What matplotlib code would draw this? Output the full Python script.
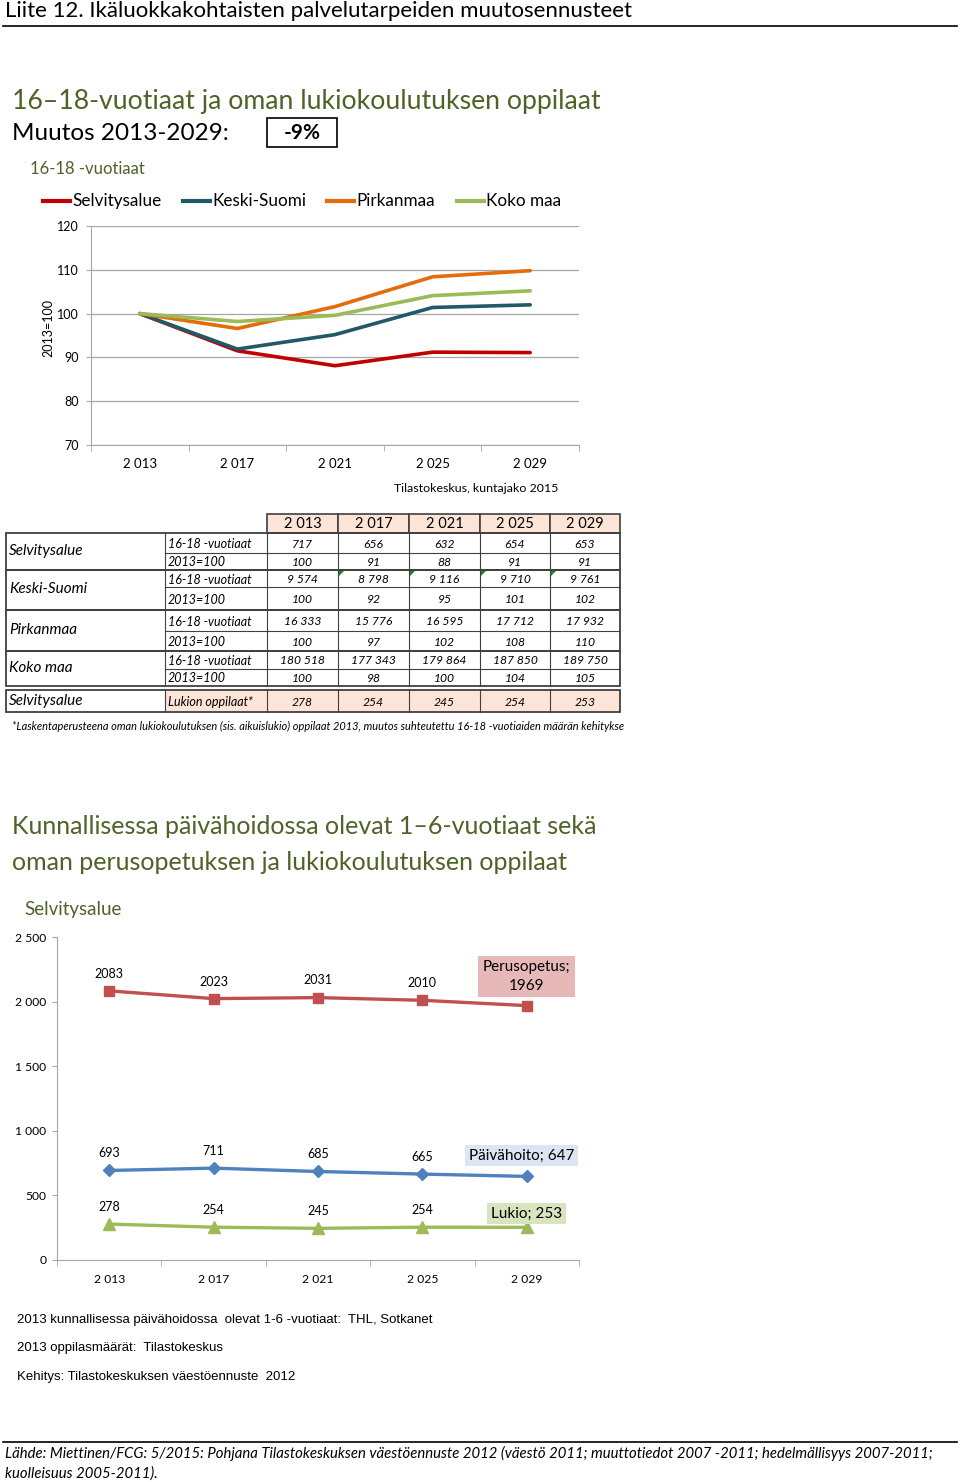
import numpy as np
import matplotlib.pyplot as plt
from matplotlib.patches import Rectangle, Polygon

plt.rcParams['font.family'] = ['Lato', 'DejaVu Sans']

W, H = 960, 1482

# --- data ---
years = ['2 013', '2 017', '2 021', '2 025', '2 029']
series_names = ['Selvitysalue', 'Keski-Suomi', 'Pirkanmaa', 'Koko maa']
series_cols = ['#C00000', '#215968', '#E46C0A', '#9BBB59']
idx_sel = [100, 91.5, 88.1, 91.2, 91.1]
idx_ks = [100, 91.9, 95.2, 101.4, 102.0]
idx_pir = [100, 96.6, 101.6, 108.4, 109.8]
idx_km = [100, 98.2, 99.6, 104.1, 105.2]

n_sel = [717, 656, 632, 654, 653]
i_sel = [100, 91, 88, 91, 91]
n_ks = [9574, 8798, 9116, 9710, 9761]
i_ks = [100, 92, 95, 101, 102]
n_pir = [16333, 15776, 16595, 17712, 17932]
i_pir = [100, 97, 102, 108, 110]
n_km = [180518, 177343, 179864, 187850, 189750]
i_km = [100, 98, 100, 104, 105]
lukio_opp = [278, 254, 245, 254, 253]

perus = [2083, 2023, 2031, 2010, 1969]
paiva = [693, 711, 685, 665, 647]
lukio = [278, 254, 245, 254, 253]

green_txt = '#4F6228'


def fmt(v):
    return f"{v:,}".replace(',', ' ')


def rect(x0, y0, x1, y1):
    return [x0 / W, 1 - y1 / H, (x1 - x0) / W, (y1 - y0) / H]


fig = plt.figure(figsize=(9.6, 14.82), dpi=100)
page = fig.add_axes([0, 0, 1, 1])
page.set_xlim(0, W)
page.set_ylim(H, 0)
page.axis('off')

# header
page.text(5, 11, 'Liite 12. Ikäluokkakohtaisten palvelutarpeiden muutosennusteet',
          fontsize=16, va='center', ha='left')
page.plot([3, 957], [26, 26], color='black', lw=1.2)

page.text(12, 102, '16–18-vuotiaat ja oman lukiokoulutuksen oppilaat',
          fontsize=19.2, color=green_txt, va='center')
page.text(12, 133, 'Muutos 2013-2029:', fontsize=17.5, va='center')
page.add_patch(Rectangle((267, 118), 70, 29, fill=False, ec='black', lw=1.2))
page.text(302, 133, '-9%', fontsize=15, fontweight='bold', ha='center', va='center')
page.text(30, 169, '16-18 -vuotiaat', fontsize=12, color=green_txt, va='center')

# legend
leg_x = [43, 183, 327, 457]
for lx, name, c in zip(leg_x, series_names, series_cols):
    page.plot([lx, lx + 27], [201, 201], color=c, lw=3)
    page.text(lx + 29, 201, name, fontsize=12.3, va='center')

# line chart 1
ax1 = fig.add_axes(rect(91, 226, 579, 445))
ax1.patch.set_alpha(0)
x = np.arange(5)
for vals, c in zip([idx_sel, idx_ks, idx_pir, idx_km], series_cols):
    ax1.plot(x, vals, color=c, lw=2.6, solid_capstyle='round')
ax1.set_xlim(-0.5, 4.5)
ax1.set_ylim(70, 120)
ax1.set_yticks(range(70, 121, 10))
ax1.yaxis.grid(True, color='#A6A6A6', lw=0.9)
ax1.set_axisbelow(True)
ax1.set_xticks(x)
ax1.set_xticklabels(years, fontsize=9.5)
ax1.set_xticks(np.arange(-0.5, 5, 1), minor=True)
ax1.tick_params(axis='x', which='major', length=0, pad=9)
ax1.tick_params(axis='x', which='minor', length=4, color='#A6A6A6')
ax1.tick_params(axis='y', length=3.5, color='#A6A6A6', labelsize=9, pad=5)
for s in ['top', 'right']:
    ax1.spines[s].set_visible(False)
for s in ['left', 'bottom']:
    ax1.spines[s].set_color('#A6A6A6')
page.text(48, 328, '2013=100', fontsize=9, rotation=90, ha='center', va='center')
page.text(394, 489, 'Tilastokeskus, kuntajako 2015', fontsize=8.9, va='center')

# table
peach = '#FCE4D6'
tcol = '#404040'
cx = [267, 338, 409, 480, 550, 620]
for i, yl in enumerate(years):
    page.add_patch(Rectangle((cx[i], 514), cx[i + 1] - cx[i], 19, fc=peach, ec=tcol, lw=1.2))
    page.text((cx[i] + cx[i + 1]) / 2, 524, yl, fontsize=10.5, ha='center', va='center')

blocks = [
    ('Selvitysalue', n_sel, i_sel, 533, 553, 570),
    ('Keski-Suomi', n_ks, i_ks, 570, 587, 610),
    ('Pirkanmaa', n_pir, i_pir, 610, 631, 651),
    ('Koko maa', n_km, i_km, 651, 669, 686),
]
for name, nv, iv, y0, ym, y1 in blocks:
    page.add_patch(Rectangle((6, y0), 614, y1 - y0, fill=False, ec=tcol, lw=1.3))
    page.plot([165, 620], [ym, ym], color=tcol, lw=0.8)
    for xv in cx[:-1] + [165]:
        page.plot([xv, xv], [y0, y1], color=tcol, lw=0.8)
    page.text(9, (y0 + y1) / 2 - 1, name, fontsize=11, style='italic', va='center')
    page.text(168, (y0 + ym) / 2 + 1, '16-18 -vuotiaat', fontsize=9, style='italic', va='center')
    page.text(168, (ym + y1) / 2 + 1, '2013=100', fontsize=9, style='italic', va='center')
    for i in range(5):
        xc = (cx[i] + cx[i + 1]) / 2
        page.text(xc, (y0 + ym) / 2 + 1, fmt(nv[i]), fontsize=8.7, style='italic',
                  ha='center', va='center')
        page.text(xc, (ym + y1) / 2 + 1, fmt(iv[i]), fontsize=8.7, style='italic',
                  ha='center', va='center')

# small green error markers in the Keski-Suomi row
for i in range(1, 5):
    page.add_patch(Polygon([[cx[i] + 1, 571], [cx[i] + 6, 571], [cx[i] + 1, 576]],
                           closed=True, fc='#2E7D32', ec='none'))

# lukio row
page.add_patch(Rectangle((165, 690), 455, 22, fc=peach, ec='none'))
page.add_patch(Rectangle((6, 690), 614, 22, fill=False, ec=tcol, lw=1.3))
for xv in cx[:-1] + [165]:
    page.plot([xv, xv], [690, 712], color=tcol, lw=0.8)
page.text(9, 701, 'Selvitysalue', fontsize=11, style='italic', va='center')
page.text(168, 702, 'Lukion oppilaat*', fontsize=9, style='italic', va='center')
for i in range(5):
    page.text((cx[i] + cx[i + 1]) / 2, 702, fmt(lukio_opp[i]), fontsize=8.7,
              style='italic', ha='center', va='center')
page.text(12, 726, '*Laskentaperusteena oman lukiokoulutuksen (sis. aikuislukio) oppilaat 2013, '
          'muutos suhteutettu 16-18 -vuotiaiden määrän kehitykse',
          fontsize=7.9, style='italic', va='center')

# section 2
page.text(12, 827, 'Kunnallisessa päivähoidossa olevat 1–6-vuotiaat sekä',
          fontsize=18, color=green_txt, va='center')
page.text(12, 862, 'oman perusopetuksen ja lukiokoulutuksen oppilaat',
          fontsize=18, color=green_txt, va='center')
page.text(24, 909, 'Selvitysalue', fontsize=13.5, color=green_txt, va='center')

ax2 = fig.add_axes(rect(57, 937, 579, 1260))
ax2.patch.set_alpha(0)
ax2.plot(x, perus, color='#C0504D', lw=2.4, marker='s', ms=7)
ax2.plot(x, paiva, color='#4F81BD', lw=2.4, marker='D', ms=6)
ax2.plot(x, lukio, color='#9BBB59', lw=2.4, marker='^', ms=8)
ax2.set_xlim(-0.5, 4.5)
ax2.set_ylim(0, 2500)
yt = range(0, 2501, 500)
ax2.set_yticks(list(yt))
ax2.set_yticklabels([fmt(v) for v in yt], fontsize=8.7)
ax2.set_xticks(x)
ax2.set_xticklabels(years, fontsize=8.7)
ax2.set_xticks(np.arange(-0.5, 5, 1), minor=True)
ax2.tick_params(axis='x', which='major', length=0, pad=10)
ax2.tick_params(axis='x', which='minor', length=4, color='#A6A6A6')
ax2.tick_params(axis='y', length=3.5, color='#A6A6A6', pad=4)
for s in ['top', 'right']:
    ax2.spines[s].set_visible(False)
for s in ['left', 'bottom']:
    ax2.spines[s].set_color('#A6A6A6')

for vals in [perus, paiva, lukio]:
    for i in range(4):
        ax2.annotate(str(vals[i]), (x[i], vals[i]), xytext=(0, 8),
                     textcoords='offset points', ha='center', va='bottom', fontsize=9)
ax2.annotate('Perusopetus;\n1969', (x[4], perus[4]), xytext=(0, 21),
             textcoords='offset points', ha='center', va='center', fontsize=11,
             linespacing=1.4,
             bbox=dict(boxstyle='square,pad=0.3', fc='#E6B9B8', ec='none'))
ax2.annotate('Päivähoito; 647', (x[4], paiva[4]), xytext=(-4, 15),
             textcoords='offset points', ha='center', va='center', fontsize=11,
             bbox=dict(boxstyle='square,pad=0.25', fc='#DCE6F2', ec='none'))
ax2.annotate('Lukio; 253', (x[4], lukio[4]), xytext=(0, 10),
             textcoords='offset points', ha='center', va='center', fontsize=11,
             bbox=dict(boxstyle='square,pad=0.25', fc='#D7E4BD', ec='none'))

# notes
note_font = ['Liberation Sans Narrow', 'Liberation Sans', 'DejaVu Sans']
page.text(17, 1320, '2013 kunnallisessa päivähoidossa  olevat 1-6 -vuotiaat:  THL, Sotkanet',
          fontsize=9.5, va='center', family=note_font)
page.text(17, 1348, '2013 oppilasmäärät:  Tilastokeskus', fontsize=9.5, va='center', family=note_font)
page.text(17, 1377, 'Kehitys: Tilastokeskuksen väestöennuste  2012', fontsize=9.5, va='center',
          family=note_font)

page.plot([3, 957], [1442, 1442], color='black', lw=1.2)
page.text(5, 1453, 'Lähde: Miettinen/FCG: 5/2015: Pohjana Tilastokeskuksen väestöennuste 2012 '
          '(väestö 2011; muuttotiedot 2007 -2011; hedelmällisyys 2007-2011;',
          fontsize=10.75, style='italic', va='center')
page.text(5, 1474, 'kuolleisuus 2005-2011).', fontsize=10.75, style='italic', va='center')

fig.savefig('out.png', dpi=100)
